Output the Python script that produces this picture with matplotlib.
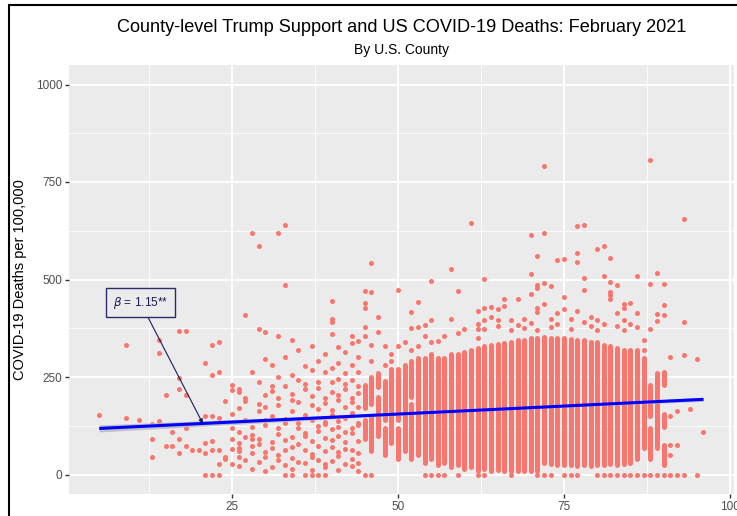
import matplotlib
matplotlib.use("Agg")
import matplotlib.pyplot as plt
from matplotlib.patches import Rectangle
import numpy as np

plt.rcParams['font.family'] = ['Liberation Sans', 'DejaVu Sans']

# ---- Trump vote share (%, whole numbers) vs COVID-19 deaths per 100k, by county ----

# low-support counties, one entry each
low_x = [5, 9, 9, 11, 13, 13, 13, 14, 14, 14, 15, 15, 16, 16, 17, 17, 17, 17, 17,
         18, 18, 18, 18, 19, 20, 21, 21, 21, 21, 22, 22, 22, 22, 22, 23, 23, 23, 23, 23, 24, 24, 24]
low_y = [152, 333, 146, 139, 92, 46, 130, 344, 312, 136, 203, 72, 108, 72, 369, 248, 220, 92, 54,
         369, 203, 118, 72, 64, 64, 285, 149, 82, 54, 332, 254, 149, 87, 64, 341, 264, 146, 64, 26, 188, 44, 41]

# mid-support columns (25-44 %): deaths per 100k for each county in the column
mid_cols_x = list(range(25, 45))
mid_cols_y = [
    [229, 216, 156, 118, 92, 65, 28],
    [220, 212, 171, 109, 80, 67, 59, 46, 23],
    [410, 195, 188, 141, 97, 38],
    [620, 262, 123, 101, 90, 72, 54, 13],
    [585, 374, 236, 181, 163, 92, 77, 31],
    [365, 297, 204, 173, 139, 126, 58, 44, 8],
    [281, 227, 214, 150, 83, 69, 19],
    [620, 355, 251, 196, 177, 118, 104, 51, 36],
    [640, 487, 302, 228, 143, 131, 88, 62, 24],
    [346, 255, 207, 190, 164, 96, 71, 42, 15],
    [318, 242, 186, 133, 120, 78, 33],
    [277, 233, 219, 152, 107, 99, 64, 29],
    [329, 268, 201, 179, 141, 86, 52, 45, 11],
    [291, 236, 223, 168, 125, 112, 73, 37],
    [310, 264, 197, 184, 135, 129, 94, 61, 26, 18],
    [445, 398, 390, 361, 274, 238, 211, 166, 152, 117, 89, 70, 35],
    [326, 287, 246, 204, 191, 138, 122, 98, 57, 48, 12],
    [314, 259, 231, 218, 173, 146, 109, 84, 66, 27],
    [355, 336, 281, 242, 197, 186, 157, 119, 106, 63, 39, 21],
    [342, 301, 262, 226, 208, 174, 131, 127, 85, 56, 30, 9],
]

# contiguous runs of stacked counties within one vote-share column
run_x  = [45, 45, 46, 46, 47, 47, 48, 48, 49, 50, 50, 51, 52, 52, 53, 54, 55,
          56, 57, 58, 59, 60, 61, 62, 63, 64, 65, 66, 67, 68, 69, 70, 71,
          72, 73, 74, 75, 76, 77, 78, 79, 80, 81, 82, 83, 84, 85, 86,
          87, 88, 88, 89, 90, 90, 90]
run_lo = [90, 170, 60, 180, 100, 225, 50, 140, 80, 40, 140, 60, 40, 200, 50, 30, 40,
          25, 30, 20, 25, 15, 20, 10, 15, 10, 12, 8, 10, 8, 10, 8, 10,
          30, 28, 25, 24, 24, 22, 24, 22, 25, 24, 26, 24, 28, 30, 40,
          67, 41, 150, 67, 229, 123, 24]
run_hi = [140, 230, 150, 250, 200, 260, 120, 240, 270, 120, 270, 280, 180, 290, 300, 300, 310,
          300, 300, 310, 310, 315, 320, 325, 330, 332, 335, 338, 340, 345, 345, 350, 350,
          352, 350, 350, 350, 348, 345, 345, 340, 340, 332, 330, 325, 320, 318, 320,
          300, 120, 229, 259, 264, 156, 75]

# scattered counties above / between the runs
high_x = [45, 45, 45, 45, 45, 46, 46, 46, 46, 47, 47, 48, 48, 49, 49, 50, 50, 51, 52, 52, 52,
          53, 53, 53, 54, 54, 55, 55, 55,
          56, 57, 58, 58, 59, 59, 60, 61, 62, 62, 62, 62, 63, 63, 63, 63, 64, 65, 66, 66, 68,
          70, 72, 71, 70, 70, 71, 71, 72, 73, 72, 71, 71, 74, 75, 74, 75, 75, 77, 78, 77, 77,
          78, 78, 80, 81, 82, 81, 82, 83, 82, 82, 82, 84, 84, 85, 86, 83, 86, 86, 88, 89, 90,
          90, 89, 89, 90, 93, 72, 88, 93,
          64, 65, 65, 67, 67, 68, 69, 69, 70, 71, 73, 73, 74, 76, 76, 77, 78, 79, 79, 80, 80,
          81, 83, 84, 84, 85, 87, 87, 88,
          91, 91, 91, 91, 92, 92, 93, 94, 95, 96]
high_y = [471, 439, 426, 379, 355, 543, 467, 332, 290, 404, 366, 330, 280, 310, 290, 472, 330, 340, 417, 376, 320,
          442, 379, 330, 384, 356, 496, 397, 340,
          343, 356, 526, 399, 471, 362, 373, 645, 419, 387, 373, 351, 501, 427, 397, 374, 429, 424, 433, 451, 451,
          614, 618, 561, 514, 462, 485, 477, 490, 483, 437, 427, 417, 550, 553, 415, 454, 424, 638, 640, 567, 545,
          504, 472, 578, 587, 554, 508, 494, 485, 467, 459, 451, 438, 428, 439, 508, 414, 414, 379, 489, 517, 489,
          434, 412, 394, 410, 392, 790, 807, 656,
          404, 395, 380, 395, 370, 383, 400, 375, 388, 370, 400, 378, 385, 400, 372, 420, 390, 380, 405, 395, 370,
          385, 380, 395, 370, 385, 345, 320, 372,
          302, 149, 75, 50, 162, 75, 306, 169, 295, 110]

# counties reporting no deaths
zero_x = [21, 22, 23, 33, 34, 36, 37, 38, 39, 45, 46, 54, 55, 56, 57, 59, 62, 63, 67, 71, 72,
          73, 75, 76, 77, 80, 81, 82, 83, 84, 85, 86, 87, 88, 89, 90, 91, 92, 93, 95]

# linear smoother: fitted line and its standard error
fit_x = [5, 96]
fit_intercept = 114.0
fit_slope = 0.82
fit_se_mid = 2.5
fit_se_end = 9.0

x_ticks = [25, 50, 75, 100]
y_ticks = [0, 250, 500, 750, 1000]

W, H = 737, 516
fig = plt.figure(figsize=(W / 100, H / 100), dpi=100)
fig.patch.set_facecolor('white')

L, R, T, B = 69, 734, 65, 494
ax = fig.add_axes([L / W, 1 - B / H, (R - L) / W, (B - T) / H])
ax.set_facecolor('#EBEBEB')
for s in ax.spines.values():
    s.set_visible(False)

ax.set_xlim(0.45, 100.6)
ax.set_ylim(-50, 1050)
ax.set_xticks(x_ticks)
ax.set_yticks(y_ticks)
ax.set_xticks([12.5, 37.5, 62.5, 87.5], minor=True)
ax.set_yticks([125, 375, 625, 875], minor=True)
ax.grid(which='major', color='white', lw=1.3)
ax.grid(which='minor', color='white', lw=0.6)
ax.set_axisbelow(True)
ax.tick_params(which='major', length=3, width=1, color='#333333',
               labelsize=8.5, labelcolor='#4D4D4D', pad=2)
ax.tick_params(which='minor', length=0)

dot = '#F8766D'
ms = 13
mid_x = [x for x, ys in zip(mid_cols_x, mid_cols_y) for _ in ys]
mid_y = [y for ys in mid_cols_y for y in ys]
ax.vlines(run_x, run_lo, run_hi, colors=dot, lw=3.6, capstyle='round', zorder=2)
ax.scatter(low_x, low_y, s=ms, color=dot, lw=0, zorder=2)
ax.scatter(mid_x, mid_y, s=ms, color=dot, lw=0, zorder=2)
ax.scatter(high_x, high_y, s=ms, color=dot, lw=0, zorder=2)
ax.scatter(zero_x, [0] * len(zero_x), s=ms, color=dot, lw=0, zorder=2)

# fitted line with confidence band
fx = np.linspace(fit_x[0], fit_x[1], 100)
fy = fit_intercept + fit_slope * fx
xm = 0.5 * (fit_x[0] + fit_x[1]) + 14
half = np.sqrt(fit_se_mid ** 2 + (fit_se_end ** 2 - fit_se_mid ** 2) * ((fx - xm) / (fit_x[0] - xm)) ** 2)
ax.fill_between(fx, fy - half, fy + half, color='#B8B8C0', alpha=0.85, lw=0, zorder=3)
ax.plot(fx, fy, color='#0000FF', lw=2.2, zorder=4, solid_capstyle='butt')

# coefficient callout
ax.annotate(r'$\beta$' + ' = 1.15**', xy=(20.6, fit_intercept + fit_slope * 20.6),
            xytext=(11.2, 441), ha='center', va='center', fontsize=8.6, color='#1B1B5A',
            bbox=dict(boxstyle='square,pad=0.55', fc='#EBEBEB', ec='#2B2B6B', lw=1),
            arrowprops=dict(arrowstyle='-|>', color='#1B1B5A', lw=0.8, mutation_scale=6,
                            shrinkA=0, shrinkB=0),
            zorder=5)

ax.set_ylabel('COVID-19 Deaths per 100,000', fontsize=10.5, color='black', labelpad=6)

fig.text((L + R) / 2 / W, 1 - 27 / H,
         'County-level Trump Support and US COVID-19 Deaths: February 2021',
         ha='center', va='center', fontsize=13.1, color='black')
fig.text((L + R) / 2 / W, 1 - 50 / H, 'By U.S. County',
         ha='center', va='center', fontsize=10, color='black')

# outer frame
fig.add_artist(Rectangle((9 / W, -0.2), 1.2, 1.2 - 5 / H, transform=fig.transFigure,
                         fill=False, ec='black', lw=1.5))

fig.savefig('out.png', dpi=100)
